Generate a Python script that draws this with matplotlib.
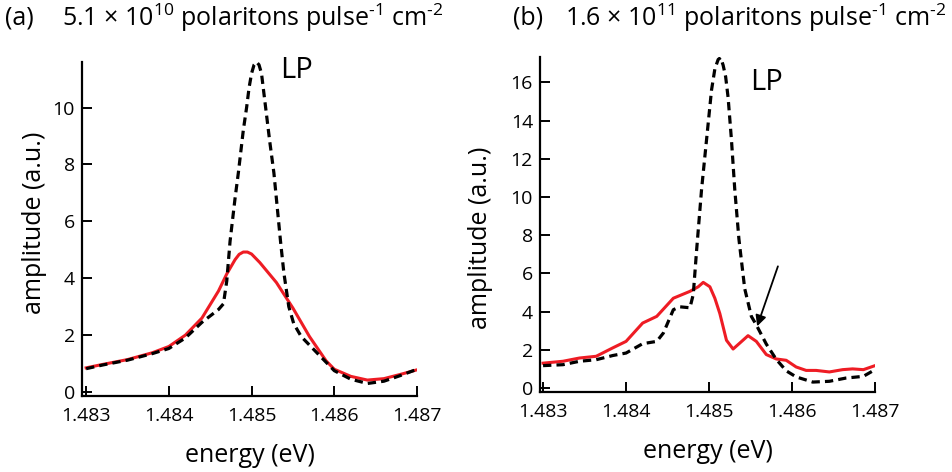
import matplotlib
matplotlib.use("Agg")
import matplotlib.pyplot as plt
from matplotlib import font_manager as fm

names = {f.name for f in fm.fontManager.ttflist}
MAIN = "Open Sans" if "Open Sans" in names else "DejaVu Sans"

plt.rcParams["font.family"] = [MAIN, "DejaVu Sans"]
plt.rcParams["mathtext.fontset"] = "custom"
plt.rcParams["mathtext.rm"] = MAIN
plt.rcParams["mathtext.it"] = MAIN
plt.rcParams["mathtext.bf"] = MAIN

# ---------------- data ----------------
# panel (a)
a_red_e = [1.4830, 1.4832, 1.4835, 1.4838, 1.4840, 1.4842, 1.4844, 1.4846, 1.4847,
           1.4848, 1.48485, 1.4849, 1.48495, 1.4850, 1.4851, 1.4853, 1.4855, 1.4857,
           1.4859, 1.4860, 1.4862, 1.4864, 1.4866, 1.4868, 1.4870]
a_red_v = [0.85, 0.97, 1.14, 1.38, 1.6, 2.0, 2.6, 3.55, 4.15,
           4.65, 4.84, 4.92, 4.92, 4.85, 4.55, 3.85, 2.95, 1.95,
           1.1, 0.8, 0.55, 0.42, 0.47, 0.62, 0.78]
a_lp_e = [1.4830, 1.4832, 1.4835, 1.4838, 1.4840, 1.4842, 1.4844, 1.4846, 1.48466,
          1.48470, 1.48474, 1.48480, 1.48484, 1.48490, 1.48494, 1.48497, 1.48500,
          1.48503, 1.48506, 1.48509, 1.48512, 1.48517, 1.48522, 1.48527, 1.48535,
          1.48539, 1.48545, 1.48551, 1.48560, 1.4858, 1.4860, 1.4862, 1.4864, 1.4866,
          1.4868, 1.4870]
a_lp_v = [0.82, 0.95, 1.12, 1.35, 1.53, 1.9, 2.45, 2.9, 3.1,
          3.9, 5.3, 6.8, 7.7, 9.2, 10.0, 10.7, 11.2,
          11.5, 11.6, 11.5, 11.2, 10.0, 8.8, 7.7, 5.3,
          4.2, 3.0, 2.4, 1.95, 1.35, 0.75, 0.45, 0.3, 0.38,
          0.58, 0.8]

# panel (b)
b_red_e = [1.48300, 1.48324, 1.48344, 1.48364, 1.48384, 1.48400, 1.48420, 1.48437,
           1.48457, 1.48477, 1.48487, 1.48493, 1.48501, 1.48507, 1.48513, 1.48521,
           1.48529, 1.48537, 1.48547, 1.48557, 1.48569, 1.48581, 1.48593, 1.48605,
           1.48617, 1.48629, 1.48645, 1.48661, 1.48673, 1.48686, 1.48700]
b_red_v = [1.3, 1.4, 1.57, 1.66, 2.1, 2.44, 3.4, 3.75,
           4.7, 5.06, 5.3, 5.53, 5.3, 4.7, 3.9, 2.5,
           2.04, 2.35, 2.74, 2.44, 1.75, 1.52, 1.45, 1.1,
           0.92, 0.92, 0.84, 0.96, 1.0, 0.96, 1.17]
b_lp_e = [1.48300, 1.48324, 1.48344, 1.48364, 1.48384, 1.48400, 1.48420, 1.48437,
          1.48445, 1.48457, 1.48465, 1.48477, 1.48481, 1.48485, 1.48491, 1.48497,
          1.48503, 1.48507, 1.48511, 1.48514, 1.48517, 1.48520, 1.48523, 1.48527,
          1.48531, 1.48536, 1.48543, 1.48551, 1.48557, 1.48569, 1.48581, 1.48593,
          1.48605, 1.48625, 1.48645, 1.48665, 1.48686, 1.48700]
b_lp_v = [1.17, 1.22, 1.4, 1.48, 1.7, 1.83, 2.32, 2.44,
          2.88, 4.1, 4.25, 4.2, 4.9, 7.2, 10.4, 13.0,
          15.6, 16.7, 17.2, 17.3, 16.9, 16.3, 15.2, 13.0,
          10.4, 7.8, 5.2, 3.75, 3.3, 2.3, 1.5, 0.9,
          0.58, 0.31, 0.35, 0.52, 0.61, 0.96]

x_ticks = [1.483, 1.484, 1.485, 1.486, 1.487]
x_tick_labels = ["1.483", "1.484", "1.485", "1.486", "1.487"]
a_y_ticks = [0, 2, 4, 6, 8, 10]
b_y_ticks = [0, 2, 4, 6, 8, 10, 12, 14, 16]

titles = [r"5.1 × 10$^{\mathregular{10}}$ polaritons pulse$^{\text{-1}}$ cm$^{\text{-2}}$",
          r"1.6 × 10$^{\mathregular{11}}$ polaritons pulse$^{\text{-1}}$ cm$^{\text{-2}}$"]
panel_tags = ["(a)", "(b)"]

# ---------------- figure ----------------
W, H = 953, 472
fig = plt.figure(figsize=(W / 100, H / 100), dpi=100)

def px_axes(l, r, t, b):
    return fig.add_axes([l / W, 1 - b / H, (r - l) / W, (b - t) / H])

axA = px_axes(82, 417, 62, 396)
axB = px_axes(540, 875, 57, 392)

RED = "#ee1c24"
DASH = (0, (2.6, 1.6))

def style(ax, yticks, xlim, ylim):
    for s in ["top", "right"]:
        ax.spines[s].set_visible(False)
    for s in ["left", "bottom"]:
        ax.spines[s].set_linewidth(1.6)
    ax.set_xlim(*xlim)
    ax.set_ylim(*ylim)
    ax.set_xticks(x_ticks)
    ax.set_xticklabels(x_tick_labels, fontsize=14)
    ax.set_yticks(yticks)
    ax.set_yticklabels([str(v) for v in yticks], fontsize=14)
    ax.tick_params(direction="in", length=7.5, width=1.4, pad=8)
    ax.tick_params(axis="y", pad=5)
    ax.set_xlabel("energy (eV)", fontsize=18)
    ax.xaxis.set_label_coords(0.5, -0.14)

axA.plot(a_red_e, a_red_v, color=RED, lw=2.2, solid_joinstyle="round")
axA.plot(a_lp_e, a_lp_v, color="black", lw=2.3, linestyle=DASH)
style(axA, a_y_ticks, (1.48295, 1.487), (-0.14, 11.6))
axA.set_ylabel("amplitude (a.u.)", fontsize=18)
axA.yaxis.set_label_coords(-0.105, 0.52)
axA.text(1.48535, 11.3, "LP", fontsize=21, ha="left", va="center")

axB.plot(b_red_e, b_red_v, color=RED, lw=2.2, solid_joinstyle="round")
axB.plot(b_lp_e, b_lp_v, color="black", lw=2.3, linestyle=DASH)
style(axB, b_y_ticks, (1.482963, 1.487), (-0.21, 17.33))
axB.set_ylabel("amplitude (a.u.)", fontsize=18)
axB.yaxis.set_label_coords(-0.14, 0.46)
axB.text(1.48549, 16.0, "LP", fontsize=21, ha="left", va="center")
axB.annotate("", xy=(1.48558, 3.23), xytext=(1.48583, 6.37),
             arrowprops=dict(arrowstyle="-|>", color="black", lw=1.3,
                             mutation_scale=16, shrinkA=0, shrinkB=0))

# titles
ty = 1 - 18 / H
fig.text(5 / W, ty, panel_tags[0], fontsize=18, va="center", ha="left")
fig.text(62 / W, ty, titles[0], fontsize=18, va="center", ha="left")
fig.text(513 / W, ty, panel_tags[1], fontsize=18, va="center", ha="left")
fig.text(565 / W, ty, titles[1], fontsize=18, va="center", ha="left")

fig.savefig("out.png", dpi=100)
